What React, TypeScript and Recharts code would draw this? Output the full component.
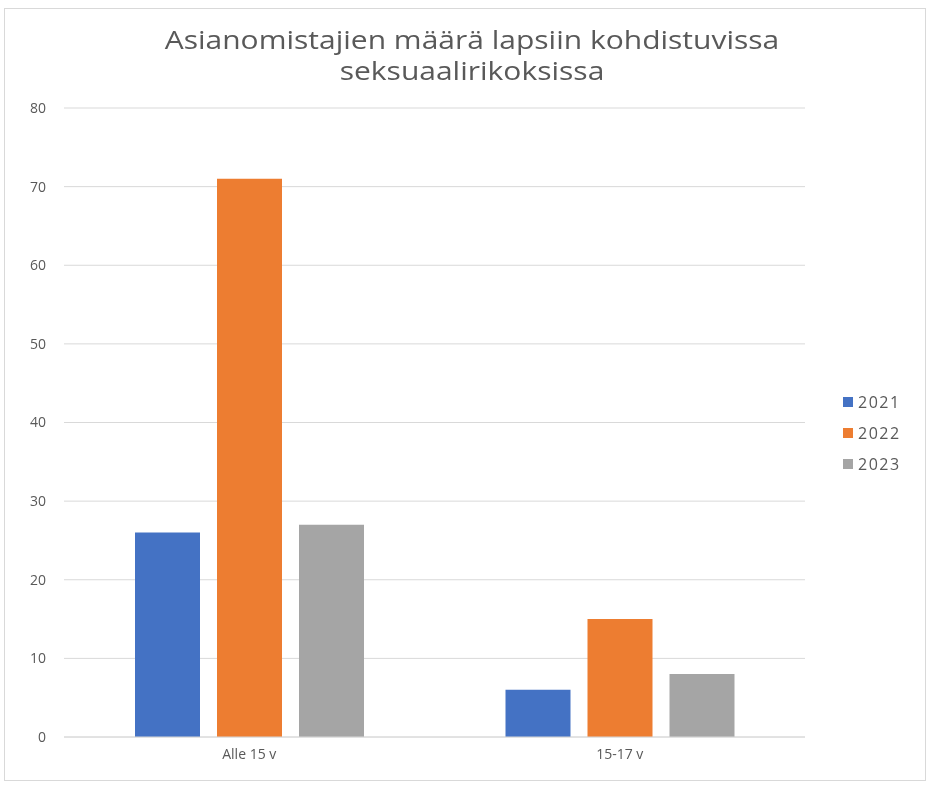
import { BarChart, Bar, XAxis, YAxis, CartesianGrid } from "recharts";

const categories = ["Alle 15 v", "15-17 v"];
const years = ["2021", "2022", "2023"];
const values2021 = [26, 6];
const values2022 = [71, 15];
const values2023 = [27, 8];
const yTicks = [0, 10, 20, 30, 40, 50, 60, 70, 80];
const colors = ["#4472C4", "#ED7D31", "#A5A5A5"];

const data = categories.map((name, i) => ({
  name,
  "2021": values2021[i],
  "2022": values2022[i],
  "2023": values2023[i],
}));

const font = "'Open Sans', sans-serif";
const textColor = "#595959";

export default function App() {
  return (
    <div style={{ position: "fixed", left: 0, top: 0, width: 931, height: 787, background: "#fff" }}>
      <div
        style={{
          position: "absolute",
          left: 4,
          top: 8,
          width: 920,
          height: 771,
          border: "1px solid #d9d9d9",
        }}
      />
      <div
        style={{
          position: "absolute",
          left: 0,
          top: 24,
          width: 944,
          textAlign: "center",
          fontFamily: font,
          fontSize: 25,
          lineHeight: "31px",
          color: textColor,
          transform: "scaleX(1.2)",
          transformOrigin: "472px 0",
        }}
      >
        Asianomistajien määrä lapsiin kohdistuvissa
        <br />
        seksuaalirikoksissa
      </div>
      <BarChart
        width={931}
        height={787}
        data={data}
        margin={{ top: 108, right: 126, bottom: 20, left: 14 }}
        barGap={17}
        style={{ position: "absolute", left: 0, top: 0 }}
      >
        <CartesianGrid vertical={false} stroke="#d9d9d9" />
        <XAxis
          dataKey="name"
          height={30}
          axisLine={{ stroke: "#d9d9d9" }}
          tickLine={false}
          tick={{ fill: textColor, fontSize: 14, fontFamily: font }}
          tickMargin={6}
        />
        <YAxis
          domain={[0, 80]}
          ticks={yTicks}
          width={50}
          axisLine={false}
          tickLine={false}
          tick={{ fill: textColor, fontSize: 14, fontFamily: font }}
          tickMargin={12}
        />
        {years.map((y, i) => (
          <Bar key={y} dataKey={y} fill={colors[i]} barSize={65} isAnimationActive={false} />
        ))}
      </BarChart>
      <div
        style={{
          position: "absolute",
          left: 843,
          top: 386,
          fontFamily: font,
          fontSize: 16,
          letterSpacing: 1.5,
          color: textColor,
        }}
      >
        {years.map((y, i) => (
          <div key={y} style={{ display: "flex", alignItems: "center", height: 31 }}>
            <span style={{ width: 10, height: 10, background: colors[i], marginRight: 5 }} />
            <span>{y}</span>
          </div>
        ))}
      </div>
    </div>
  );
}
